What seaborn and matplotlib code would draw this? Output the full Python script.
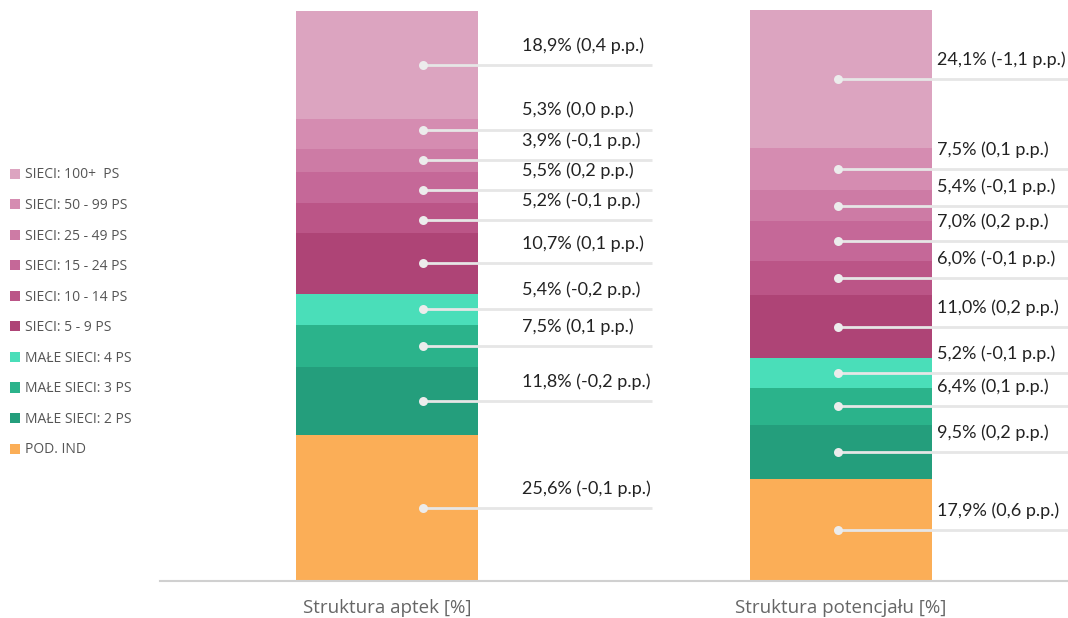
import matplotlib
matplotlib.use("Agg")
import numpy as np
import pandas as pd
import matplotlib.pyplot as plt
import seaborn as sns
from matplotlib.patches import Patch

# segments listed bottom-up
segments = ['POD. IND', 'MAŁE SIECI: 2 PS', 'MAŁE SIECI: 3 PS', 'MAŁE SIECI: 4 PS',
            'SIECI: 5 - 9 PS', 'SIECI: 10 - 14 PS', 'SIECI: 15 - 24 PS',
            'SIECI: 25 - 49 PS', 'SIECI: 50 - 99 PS', 'SIECI: 100+  PS']
groups = ['Struktura aptek [%]', 'Struktura potencjału [%]']
aptek = [25.6, 11.8, 7.5, 5.4, 10.7, 5.2, 5.5, 3.9, 5.3, 18.9]
aptek_pp = [-0.1, -0.2, 0.1, -0.2, 0.1, -0.1, 0.2, -0.1, 0.0, 0.4]
potencjal = [17.9, 9.5, 6.4, 5.2, 11.0, 6.0, 7.0, 5.4, 7.5, 24.1]
potencjal_pp = [0.6, 0.2, 0.1, -0.1, 0.2, -0.1, 0.2, -0.1, 0.1, -1.1]
colors = ['#fbae57', '#249e7c', '#2bb38b', '#4adeb9',
          '#ae4476', '#bb5587', '#c56898', '#cd7ba5', '#d58cb1', '#dca4c0']

df = pd.DataFrame({'segment': segments * 2,
                   'group': [groups[0]] * 10 + [groups[1]] * 10,
                   'value': aptek + potencjal,
                   'pp': aptek_pp + potencjal_pp})
df['top'] = df.groupby('group')['value'].cumsum()
df['mid'] = df['top'] - df['value'] / 2


def spread(ys, gap=5.3, n_iter=200):
    # push label anchors apart so neighbouring labels don't collide
    ys = np.array(ys, dtype=float)
    for _ in range(n_iter):
        moved = False
        for k in range(len(ys) - 1):
            d = ys[k + 1] - ys[k]
            if d < gap - 1e-6:
                shift = (gap - d) / 2
                ys[k] -= shift
                ys[k + 1] += shift
                moved = True
        if not moved:
            break
    return ys


sns.set_style('white')
plt.rcParams['font.family'] = ['Lato', 'DejaVu Sans']

fig = plt.figure(figsize=(10.68, 6.18), dpi=100)
ax = fig.add_axes([0.1498, 0.0599, 0.8502, 0.9239])

# stacked bars: draw the cumulative totals from the top segment downwards
for seg, col in reversed(list(zip(segments, colors))):
    sub = df[df['segment'] == seg]
    sns.barplot(data=sub, x='group', y='top', order=groups, color=col,
                width=0.4, saturation=1, ax=ax, linewidth=0)


def fmt(v):
    return f"{v:.1f}".replace('.', ',')


# leader lines with dots and labels
dot_dx = [0.08, -0.007]
line_end = [0.584, 1.5]
text_x = [0.297, 1.211]
for i, g in enumerate(groups):
    sub = df[df['group'] == g]
    ys = spread(sub['mid'].values)
    for y, (_, r) in zip(ys, sub.iterrows()):
        ax.plot([i + dot_dx[i], line_end[i]], [y, y],
                color='#e6e6e6', lw=2, solid_capstyle='butt', zorder=3,
                clip_on=False)
        ax.scatter([i + dot_dx[i]], [y], s=42, color='#ececec',
                   zorder=4, linewidths=0, clip_on=False)
        label = f"{fmt(r['value'])}% ({fmt(r['pp'])} p.p.)"
        ax.text(text_x[i], y + 3.4, label, fontsize=13, color='#222222',
                va='center', ha='left', zorder=5)

ax.set_xlim(-0.5, 1.5)
ax.set_ylim(0, 100)
ax.set_xlabel('')
ax.set_ylabel('')
ax.set_yticks([])
ax.tick_params(axis='x', length=0, pad=13)
for lab in ax.get_xticklabels():
    lab.set_family(['Open Sans', 'DejaVu Sans'])
    lab.set_fontsize(13.5)
    lab.set_color('#666666')
for s in ['top', 'right', 'left']:
    ax.spines[s].set_visible(False)
ax.spines['bottom'].set_color('#d0d0d0')
ax.spines['bottom'].set_linewidth(1.5)

handles = [Patch(facecolor=c, edgecolor='none', label=s)
           for s, c in reversed(list(zip(segments, colors)))]
leg = fig.legend(handles=handles, loc='upper left', bbox_to_anchor=(0.0094, 0.729),
                 frameon=False, fontsize=10, handlelength=0.75, handleheight=0.75,
                 handletextpad=0.3, labelspacing=1.12, borderaxespad=0,
                 borderpad=0)
for t in leg.get_texts():
    t.set_color('#555555')
    t.set_family(['Open Sans', 'DejaVu Sans'])

fig.savefig('out.png', dpi=100)
